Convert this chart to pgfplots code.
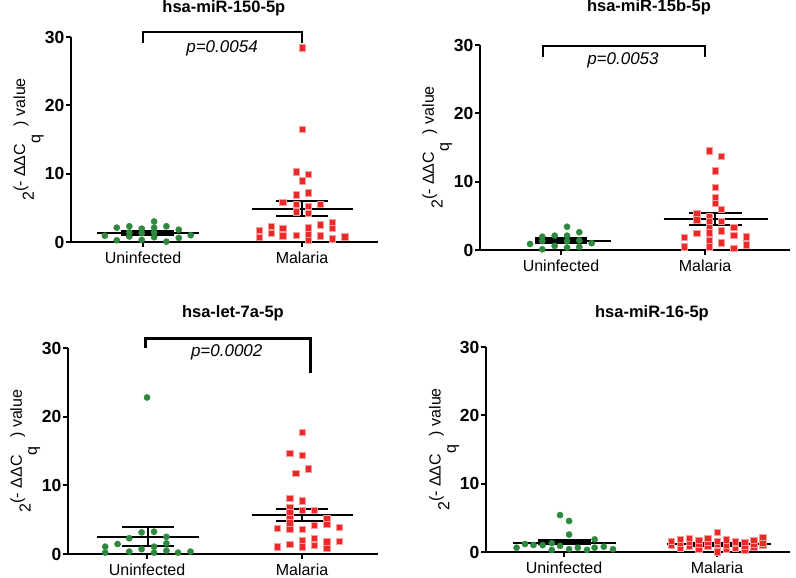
\documentclass[border=0pt]{standalone}
\usepackage{pgfplots}
\pgfplotsset{compat=1.18}
\usepackage{fontspec}
\setmainfont{Liberation Sans}
\definecolor{mgreen}{RGB}{46,136,62}
\definecolor{mred}{RGB}{236,40,40}
\newcommand\fs{\fontsize{16}{19}\selectfont}
\newcommand\fst{\fontsize{17.5}{20}\selectfont}
\newcommand\fsp{\fontsize{17}{20}\selectfont}
\newcommand\fsl{\fontsize{16}{18}\selectfont}
\newcommand\fstitle{\fontsize{16.5}{19}\selectfont}

\pgfplotsset{
  panel/.style={
    scale only axis, clip=false,
    ymin=0, ymax=30, ytick={0,10,20,30},
    xtick={1,2}, xticklabels={Uninfected,Malaria},
    axis x line=bottom, axis y line=left,
    axis line style={-, line width=2.8pt},
    tick style={black, line width=2pt},
    major tick length=5pt, tick align=outside,
    /pgf/number format/assume math mode=true,
    yticklabel style={font=\fst\bfseries, inner sep=1.5pt},
    xticklabel style={font=\fs, inner sep=2pt, yshift=-3pt},
  },
  grn/.style={only marks, mark=*, mark size=3.1pt, mark options={fill=mgreen, draw=mgreen}},
  rd/.style={only marks, mark=square*, mark size=3.2pt, mark options={fill=mred, draw=mred!45!white, line width=0.5pt}},
  meanl/.style={black, line width=2pt, no marks},
  seml/.style={black, line width=2pt, no marks},
  semthick/.style={black, line width=3pt, no marks},
  brk/.style={black, line width=2pt, no marks},
}
\newcommand\ylab{\node[rotate=90, font=\fsl] at (rel axis cs:-0.138,0.5)
  {2\raisebox{0.55em}{(- ΔΔC\raisebox{-0.95em}{q}\hspace{0.55em}) value}};}
\newcommand\ttl[3]{\node[font=\fstitle\bfseries] at (rel axis cs:#1,#2) {#3};}

\begin{document}
\begin{tikzpicture}
\path[use as bounding box] (0,0) rectangle (796pt,-578pt);

% ---------- hsa-miR-150-5p ----------
\begin{axis}[panel, at={(71pt,-242pt)}, anchor=south west,
  width=307pt, height=205pt, xmin=0.547, xmax=2.478]
\addplot[grn] coordinates {
 (0.76,0.92) (0.835,2.1) (0.835,0.25) (0.914,2.3) (0.914,0.8) (0.992,1.95)
 (0.992,0.3) (1.07,3.0) (1.07,2.1) (1.07,0.7) (1.147,2.3) (1.147,0.05)
 (1.225,1.8) (1.225,0.6) (1.30,1.0) (0.914,1.4) (1.07,1.4) (0.992,1.3)};
\addplot[rd] coordinates {
 (2,28.4) (2,16.5) (1.962,10.26) (2.038,9.9) (2,8.95) (1.962,6.9) (2.038,7.2)
 (1.88,5.8) (1.962,5.5) (1.962,4.4) (2.038,5.25) (2.038,4.2) (2.115,5.5)
 (1.73,1.75) (1.73,0.7) (1.805,2.3) (1.805,1.27) (1.88,2.0) (1.88,0.9)
 (1.962,1.0) (2.038,2.1) (2.038,1.17) (2.038,0.3) (2.115,2.5) (2.115,0.9)
 (2.19,2.8) (2.19,2.0) (2.19,0.5) (2.27,0.75)};
\addplot[meanl] coordinates {(0.71,1.27) (1.35,1.27)};
\addplot[semthick] coordinates {(0.86,1.05) (1.195,1.05)};
\addplot[semthick] coordinates {(0.86,1.55) (1.195,1.55)};
\addplot[meanl] coordinates {(1.684,4.85) (2.32,4.85)};
\addplot[seml] coordinates {(1.835,5.94) (2.165,5.94)};
\addplot[seml] coordinates {(1.835,3.8) (2.165,3.8)};
\addplot[seml] coordinates {(2,3.8) (2,5.94)};
\addplot[black, line width=1.5pt, no marks] coordinates {(1,29.1) (1,30.7) (2,30.7) (2,29.1)};
\node[font=\fsp\itshape] at (axis cs:1.497,28.4) {p=0.0054};
\ttl{0.498}{1.14}{hsa-miR-150-5p}
\ylab
\end{axis}

% ---------- hsa-miR-15b-5p ----------
\begin{axis}[panel, at={(480pt,-250pt)}, anchor=south west,
  width=310pt, height=205pt, xmin=0.4375, xmax=2.59]
\addplot[grn] coordinates {
 (0.785,0.88) (0.87,1.95) (0.87,0.1) (0.956,2.1) (0.956,0.6) (1.042,3.4)
 (1.042,2.1) (1.042,0.35) (1.127,2.6) (1.127,0.45) (1.213,1.0)
 (0.87,1.3) (1.042,1.3) (1.127,1.4)};
\addplot[rd] coordinates {
 (2.028,14.5) (2.113,13.7) (2.07,11.6) (2.07,9.2) (2.07,7.7) (2.07,6.85)
 (2.113,6.0) (1.942,5.4) (1.942,4.4) (2.028,4.9) (2.028,4.15) (2.113,4.25)
 (2.028,3.3) (2.028,2.55) (1.942,2.45) (2.113,2.8) (1.856,1.9) (1.856,0.45)
 (2.028,1.45) (2.028,0.5) (2.113,1.07) (2.2,3.3) (2.2,2.2) (2.2,0.25)
 (2.285,1.95) (2.285,0.78)};
\addplot[meanl] coordinates {(0.82,1.37) (1.35,1.37)};
\addplot[semthick] coordinates {(0.82,1.15) (1.18,1.15)};
\addplot[semthick] coordinates {(0.82,1.65) (1.18,1.65)};
\addplot[meanl] coordinates {(1.715,4.5) (2.44,4.5)};
\addplot[seml] coordinates {(1.89,5.37) (2.255,5.37)};
\addplot[seml] coordinates {(1.89,3.66) (2.255,3.66)};
\addplot[seml] coordinates {(2.07,3.66) (2.07,5.37)};
\addplot[brk] coordinates {(0.877,28.2) (0.877,29.8) (2,29.8) (2,28.2)};
\node[font=\fsp\itshape] at (axis cs:1.43,27.7) {p=0.0053};
\ttl{0.545}{1.184}{hsa-miR-15b-5p}
\ylab
\end{axis}

% ---------- hsa-let-7a-5p ----------
\begin{axis}[panel, at={(68pt,-554pt)}, anchor=south west,
  width=310pt, height=206pt, xmin=0.49, xmax=2.49]
\addplot[grn] coordinates {
 (0.73,1.07) (0.73,0.2) (0.81,1.45) (0.885,2.3) (0.885,0.35) (0.965,3.15)
 (0.965,0.7) (1.045,3.25) (1.045,1.07) (1.045,0.2) (1.125,2.5) (1.125,1.55)
 (1.125,0.5) (1.2,0.2) (1.28,0.35) (1.0,22.8)};
\addplot[rd] coordinates {
 (2,17.7) (1.92,14.65) (2,14.4) (1.96,11.75) (2.04,12.4) (1.92,8.1) (2,7.76)
 (1.92,6.8) (1.92,6.0) (1.92,5.2) (1.92,4.55) (2,6.4) (2.08,6.4) (2.08,4.2)
 (2.16,5.2) (2.16,4.3) (2.24,3.9) (1.84,3.75) (1.92,3.6) (2,3.6) (1.84,1.07)
 (1.92,1.4) (2,2.0) (2,1.07) (2.08,2.3) (2.08,1.3) (2.16,1.8) (2.16,0.83)
 (2.24,1.9)};
\addplot[meanl] coordinates {(0.675,2.52) (1.335,2.52)};
\addplot[seml] coordinates {(0.837,3.93) (1.174,3.93)};
\addplot[seml] coordinates {(0.837,1.16) (1.174,1.16)};
\addplot[seml] coordinates {(1.008,1.16) (1.008,3.93)};
\addplot[meanl] coordinates {(1.675,5.68) (2.327,5.68)};
\addplot[seml] coordinates {(1.832,6.5) (2.17,6.5)};
\addplot[seml] coordinates {(1.832,4.85) (2.17,4.85)};
\addplot[seml] coordinates {(2,4.85) (2,6.5)};
\addplot[brk, line width=2.5pt] coordinates {(0.99,29.95) (0.99,31.4) (2.056,31.4) (2.056,26.3)};
\node[font=\fsp\itshape] at (axis cs:1.514,29.4) {p=0.0002};
\ttl{0.532}{1.17}{hsa-let-7a-5p}
\ylab
\end{axis}

% ---------- hsa-miR-16-5p ----------
\begin{axis}[panel, at={(486pt,-552pt)}, anchor=south west,
  width=304pt, height=205pt, xmin=0.49, xmax=2.477]
\addplot[grn] coordinates {
 (0.69,0.63) (0.745,1.17) (0.8,1.03) (0.86,1.0) (0.92,0.3) (0.974,5.4)
 (0.974,0.9) (1.033,4.54) (1.033,2.55) (1.033,0.4) (1.09,0.63) (1.15,0.3)
 (1.2,1.85) (1.2,0.63) (1.26,0.78) (1.32,0.4) (0.92,1.3)};
\addplot[rd] coordinates {
 (1.7,1.0) (1.7,1.6) (1.76,0.6) (1.76,1.3) (1.76,1.9) (1.82,0.9) (1.82,1.5)
 (1.82,2.0) (1.88,0.5) (1.88,1.2) (1.88,1.7) (1.94,0.8) (1.94,1.4) (1.94,2.0)
 (2.0,0.05) (2.0,1.1) (2.0,2.88) (2.0,1.6) (2.06,0.4) (2.06,1.0) (2.06,1.8)
 (2.12,0.6) (2.12,1.3) (2.12,1.5) (2.18,0.3) (2.18,0.9) (2.18,1.4) (2.24,0.7)
 (2.24,1.2) (2.24,1.7) (2.3,1.0) (2.3,2.15) (2.3,1.3)};
\addplot[meanl] coordinates {(0.667,1.37) (1.34,1.37)};
\addplot[semthick] coordinates {(0.83,1.2) (1.176,1.2)};
\addplot[semthick] coordinates {(0.83,1.65) (1.176,1.65)};
\addplot[meanl] coordinates {(1.67,1.13) (2.35,1.13)};
\addplot[semthick] coordinates {(1.843,0.95) (2.18,0.95)};
\addplot[semthick] coordinates {(1.843,1.3) (2.18,1.3)};
\ttl{0.546}{1.166}{hsa-miR-16-5p}
\ylab
\end{axis}
\end{tikzpicture}
\end{document}
